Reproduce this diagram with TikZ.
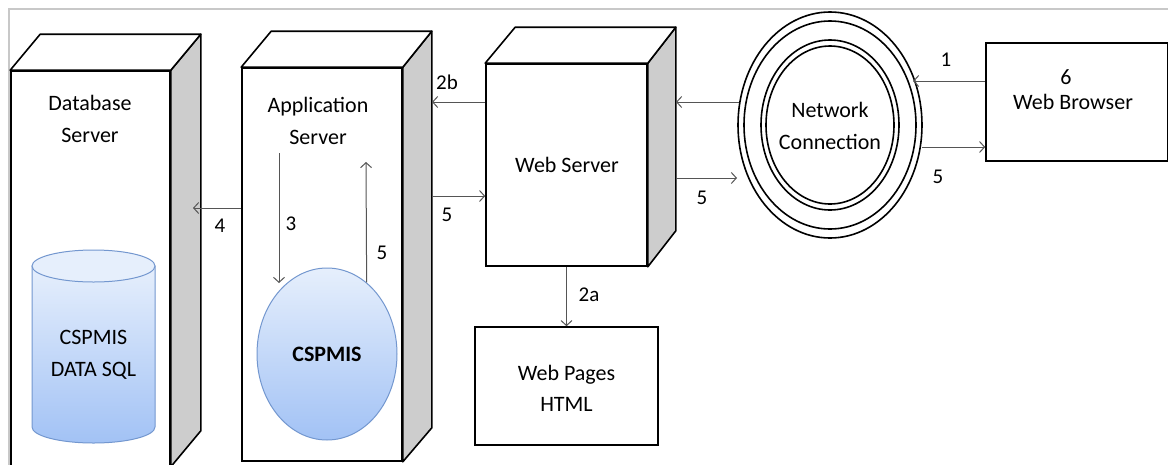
\documentclass[tikz,border=0pt]{standalone}
\usepackage{fontspec}
\setmainfont{Carlito}
\usetikzlibrary{arrows.meta,shapes.geometric}
\definecolor{sidegray}{HTML}{CDCDCD}
\definecolor{arrgray}{HTML}{555555}
\definecolor{framegray}{HTML}{C8C8C8}
\definecolor{cylline}{HTML}{7397CF}
\definecolor{cyltop}{HTML}{E6EFFC}
\definecolor{cylbot}{HTML}{A2C2F5}
\begin{document}
\begin{tikzpicture}[x=1pt,y=-1pt,
  face/.style={draw, line width=1.6pt, fill=white, rectangle, inner sep=0pt},
  sideface/.style={draw, line width=1.6pt, fill=sidegray, line join=round},
  topface/.style={draw, line width=1.6pt, fill=white, line join=round},
  txt/.style={font=\fontsize{22}{32}\selectfont, align=center, inner sep=0pt},
  lbl/.style={font=\fontsize{21}{24}\selectfont, inner sep=0pt},
  arr/.style={draw=arrgray, line width=1pt, -{Straight Barb[length=5pt,width=11pt]}},
  ring/.style={draw, line width=1.6pt}
]
\useasboundingbox (0,0) rectangle (1168,464);
\clip (0,0) rectangle (1168,464);
% frame
\draw[framegray, line width=1.5pt] (9,470) -- (9,9) -- (1170,9);

% ---------- Database server ----------
\node[face, minimum width=159pt, minimum height=395pt] (db) at (90.5,268.5) {};
\draw[sideface] (db.north east) -- ++(30,-36) -- ([shift={(30,-36)}]db.south east) -- (db.south east) -- cycle;
\draw[topface] (db.north west) -- ++(30,-36) -- ([shift={(30,-36)}]db.north east) -- (db.north east) -- cycle;
\node[txt] (dbt) at (90,119) {Database\\Server};
% cylinder
\path[shade, top color=cyltop, bottom color=cylbot, draw=cylline, line width=1pt]
  (32,266) -- (32,427) arc[start angle=180, end angle=360, x radius=61.5pt, y radius=16pt]
  -- (155,266) -- cycle;
\draw[fill=cyltop, draw=cylline, line width=1pt] (93.5,266) ellipse [x radius=61.5pt, y radius=16pt];
\node[txt] (cyl) at (93.5,355) {CSPMIS\\DATA SQL};

% ---------- Application server ----------
\node[face, minimum width=160pt, minimum height=393pt] (app) at (322,264.5) {};
\draw[sideface] (app.north east) -- ++(29,-36) -- ([shift={(29,-34)}]app.south east) -- (app.south east) -- cycle;
\draw[topface] (app.north west) -- ++(30,-36) -- ([shift={(29,-36)}]app.north east) -- (app.north east) -- cycle;
\node[txt] (appt) at (318,121) {Application\\Server};
\node[ellipse, minimum width=140pt, minimum height=172pt, inner sep=0pt, draw=cylline, line width=1pt,
      top color=cyltop, bottom color=cylbot, font=\fontsize{22}{32}\selectfont\bfseries] (cs) at (327,354) {CSPMIS};

% ---------- Web server ----------
\node[face, minimum width=161pt, minimum height=202pt] (web) at (566.5,165) {};
\draw[sideface] (web.north east) -- ++(28,-36) -- ([shift={(28,-36)}]web.south east) -- (web.south east) -- cycle;
\draw[topface] (web.north west) -- ++(30,-36) -- ([shift={(28,-36)}]web.north east) -- (web.north east) -- cycle;
\node[txt] (webt) at (567,165) {Web Server};

% ---------- Web pages ----------
\node[face, minimum width=183pt, minimum height=118pt] (wp) at (566.5,386) {};
\node[txt, font=\fontsize{22}{31}\selectfont] (wpt) at (566.5,388) {Web Pages\\HTML};

% ---------- Network connection ----------
\node[ellipse, minimum width=184pt, minimum height=226pt, inner sep=0pt, ring] (net) at (830,125) {};
\draw[ring] (net.center) ellipse [x radius=86pt, y radius=104pt];
\draw[ring] (net.center) ellipse [x radius=69pt, y radius=85pt];
\draw[ring] (net.center) ellipse [x radius=64pt, y radius=79pt];
\node[txt] (nett) at (830,126) {Network\\Connection};

% ---------- Web browser ----------
\node[face, minimum width=182pt, minimum height=118pt] (wb) at (1077,102) {};
\node[txt] (wb6) at (1066,77) {6};
\node[txt] (wbt) at (1073,102) {Web Browser};

% ---------- connector end points ----------
\coordinate (dbin) at (193,208);
\coordinate (a3s) at (279,153);
\coordinate (a3e) at (279,283);
\coordinate (a5e) at (366,162);
\coordinate (appin2b) at (432,102);
\coordinate (appout5) at (432,196);
\coordinate (webin) at (676,102);
\coordinate (webout) at (676,178);
\coordinate (netl1) at (739,102);
\coordinate (netl2) at (737,178);
\coordinate (netr1) at (913,81);
\coordinate (netr2) at (922,147);

% ---------- connectors ----------
\draw[arr] (app.west |- dbin) -- (dbin);
\draw[arr] (a3s) -- (a3e);
\draw[arr] (cs.61) -- (a5e);
\draw[arr] (web.west |- appin2b) -- (appin2b);
\draw[arr] (appout5) -- (web.west |- appout5);
\draw[arr] (web.south) -- (wp.north);
\draw[arr] (netl1) -- (webin);
\draw[arr] (webout) -- (netl2);
\draw[arr] (wb.west |- netr1) -- (netr1);
\draw[arr] (netr2) -- (wb.west |- netr2);

% ---------- labels ----------
\node[lbl] (l4) at (220,226) {4};
\node[lbl] (l3) at (291,224) {3};
\node[lbl] (l5a) at (382,253) {5};
\node[lbl] (l2b) at (447,82) {2b};
\node[lbl] (l5b) at (447,215) {5};
\node[lbl] (l2a) at (589,295) {2a};
\node[lbl] (l5c) at (702,198) {5};
\node[lbl] (l1) at (946,60) {1};
\node[lbl] (l5d) at (938,177) {5};
\end{tikzpicture}
\end{document}
